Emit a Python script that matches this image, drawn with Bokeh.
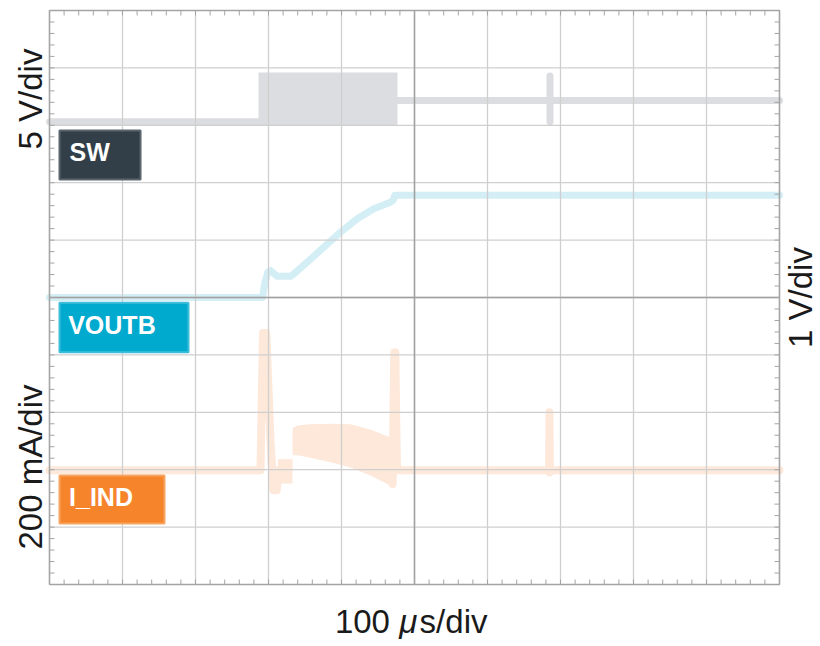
from bokeh.plotting import figure
from bokeh.models import Range1d, BoxAnnotation, Label
from bokeh.embed import file_html
from bokeh.resources import INLINE

# ---------------- data (time in us, 100 us/div; vertical in screen divisions, 0 = centre) ----
# SW trace (5 V/div)
sw_pre_t = [0, 287]
sw_pre_y = [3.06, 3.06]
sw_burst_t = [286.3, 476.7]
sw_burst_hi = [3.92, 3.92]
sw_burst_lo = [3.00, 3.00]
sw_post_t = [476, 1000]
sw_post_y = [3.43, 3.43]
sw_spike_t = [685.6]
sw_spike_lo = [3.06]
sw_spike_hi = [3.86]

# VOUTB trace (1 V/div)
vout_t = [0, 291.8, 295, 299, 303, 312, 330, 334.7, 353.0, 375.8, 398.6, 421.5, 444.2, 467.1, 471, 473, 1000]
vout_y = [0, 0, 0.25, 0.44, 0.47, 0.37, 0.37, 0.41, 0.615, 0.876, 1.138, 1.371, 1.545, 1.66, 1.70, 1.78, 1.78]

# I_IND trace (200 mA/div)
iind_pre_t = [0, 289.0, 292.5, 297.0, 302.7, 306.8, 311.0, 315.0]
iind_pre_y = [-3.01, -3.01, -0.62, -0.62, -2.49, -3.36, -3.36, -3.0]
iind_ripple_t = [313, 332.9, 333.0, 339.7, 357.5, 384.9, 412.3, 439.7, 467.1, 472.6]
iind_ripple_hi = [-2.82, -2.82, -2.28, -2.23, -2.21, -2.20, -2.21, -2.30, -2.44, -2.46]
iind_ripple_lo = [-3.24, -3.24, -2.75, -2.75, -2.79, -2.87, -2.96, -3.10, -3.28, -3.33]
iind_post_t = [470, 472.3, 473.7, 476, 684.4, 684.9, 685.4, 688, 1000]
iind_post_y = [-3.25, -0.96, -0.96, -3.01, -3.01, -2.0, -3.05, -3.01, -3.01]

# graticule: 10 x 10 divisions, 5 subdivisions each
x_major = [i * 100 for i in range(11)]
x_minor = [i * 20 for i in range(51)]
y_major = [i - 5 for i in range(11)]
y_minor = [-5 + i * 0.2 for i in range(51)]

# ---------------- layout / style ----------------
W, H = 820, 646
GX0, GY0 = 49, 297          # pixel position of t=0 / y=0
PX_US, PX_DIV = 0.73, 57.4  # pixels per us and per division
TICK = 5                    # minor tick length, px

SW_COL = "#dcdde0"
VOUT_COL = "#d3eef5"
IIND_COL = "#fde8d9"
GRID_COL = "#cfcfcf"
CENTER_COL = "#a0a0a0"
EDGE_COL = "#a4a4a4"
FONT = "Liberation Sans"

x_range = Range1d(-GX0 / PX_US, (W - GX0) / PX_US)
y_range = Range1d((GY0 - H) / PX_DIV, GY0 / PX_DIV)
p = figure(width=W, height=H, x_range=x_range, y_range=y_range,
           output_backend="svg", toolbar_location=None,
           x_axis_type=None, y_axis_type=None,
           min_border=0, min_border_left=0, min_border_right=0,
           min_border_top=0, min_border_bottom=0)
p.background_fill_color = "white"
p.border_fill_color = "white"
p.outline_line_color = None
p.xgrid.visible = False
p.ygrid.visible = False

lw = dict(line_cap="round", line_join="round")
# ---- traces ----
p.varea(x=sw_burst_t, y1=sw_burst_lo, y2=sw_burst_hi, color=SW_COL)
p.line(sw_pre_t, sw_pre_y, line_width=7, color=SW_COL, **lw)
p.line(sw_post_t, sw_post_y, line_width=7, color=SW_COL, **lw)
p.segment(x0=sw_spike_t, y0=sw_spike_lo, x1=sw_spike_t, y1=sw_spike_hi,
          line_width=7, color=SW_COL, line_cap="round")
p.line(vout_t, vout_y, line_width=7, color=VOUT_COL, **lw)
p.varea(x=iind_ripple_t, y1=iind_ripple_lo, y2=iind_ripple_hi, color=IIND_COL)
p.line(iind_pre_t, iind_pre_y, line_width=8, color=IIND_COL, **lw)
p.line(iind_post_t, iind_post_y, line_width=8, color=IIND_COL, **lw)

# ---- graticule (drawn over the traces) ----
x0, x1 = x_major[0], x_major[-1]
y0, y1 = y_major[0], y_major[-1]
inner_x = x_major[1:-1]
inner_y = y_major[1:-1]
p.segment(x0=inner_x, y0=[y0] * len(inner_x), x1=inner_x, y1=[y1] * len(inner_x),
          line_color=GRID_COL, line_width=1.3)
p.segment(x0=[x0] * len(inner_y), y0=inner_y, x1=[x1] * len(inner_y), y1=inner_y,
          line_color=GRID_COL, line_width=1.3)
xc = (x0 + x1) / 2
yc = (y0 + y1) / 2
p.segment(x0=[xc, x0], y0=[y0, yc], x1=[xc, x1], y1=[y1, yc], line_color=CENTER_COL, line_width=1.5)

tx = TICK / PX_US
ty = TICK / PX_DIV
n = len(x_minor)
m = len(y_minor)
p.segment(x0=x_minor, y0=[y0] * n, x1=x_minor, y1=[y0 + ty] * n, line_color=EDGE_COL, line_width=1)
p.segment(x0=x_minor, y0=[y1] * n, x1=x_minor, y1=[y1 - ty] * n, line_color=EDGE_COL, line_width=1)
p.segment(x0=[x0] * m, y0=y_minor, x1=[x0 + tx] * m, y1=y_minor, line_color=EDGE_COL, line_width=1)
p.segment(x0=[x1] * m, y0=y_minor, x1=[x1 - tx] * m, y1=y_minor, line_color=EDGE_COL, line_width=1)
p.multi_line(xs=[[x0, x1, x1, x0, x0]], ys=[[y0, y0, y1, y1, y0]], line_color=EDGE_COL, line_width=1.6)

# ---- channel tags ----
tags = [
    ("SW", 13.7, 124.7, 2.909, 2.056, "#333f48", "#5a656e", 27.4, 2.54),
    ("VOUTB", 13.7, 190.4, -0.092, -0.953, "#00a9ce", "#3fbddb", 25.6, -0.475),
    ("I_IND", 13.7, 157.5, -3.101, -3.937, "#f5842a", "#f8a461", 26.8, -3.48),
]
for txt, l, r, t, b, fc, bc, lx, ly in tags:
    p.add_layout(BoxAnnotation(left=l, right=r, top=t, bottom=b, fill_color=fc, fill_alpha=1.0,
                               line_color=bc, line_width=2, line_alpha=1.0))
    p.add_layout(Label(x=lx, y=ly, text=txt, text_color="white", text_font=FONT,
                       text_font_style="bold", text_font_size="25px", text_baseline="alphabetic",
                       text_align="left"))

# ---- scale labels ----
common = dict(text_font=FONT, text_font_size="33px", text_color="#1a1a1a", text_baseline="alphabetic")
p.add_layout(Label(x=-26.0, y=3.458, text="5 V/div", angle=90, angle_units="deg",
                   text_align="center", **common))
p.add_layout(Label(x=-26.0, y=-2.953, text="200 mA/div", angle=90, angle_units="deg",
                   text_align="center", **common))
p.add_layout(Label(x=1028.5, y=0.0, text="1 V/div", angle=90, angle_units="deg",
                   text_align="center", **common))
p.add_layout(Label(x=466.4, y=-5.645, text="100", text_align="right", **common))
p.add_layout(Label(x=479.0, y=-5.645, text="\u03bc", text_align="left", text_font_style="italic",
                   text_font=FONT, text_font_size="33px", text_color="#1a1a1a",
                   text_baseline="alphabetic"))
p.add_layout(Label(x=507.0, y=-5.645, text="s/div", text_align="left", **common))

open("out.html", "w").write(file_html(p, INLINE))
